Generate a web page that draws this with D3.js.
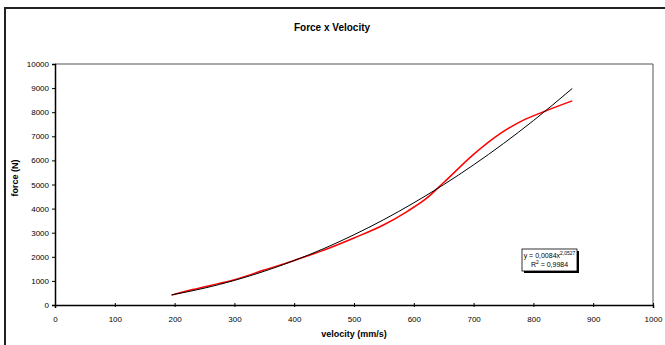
<!DOCTYPE html>
<html>
<head>
<meta charset="utf-8">
<script src="https://cdn.jsdelivr.net/npm/d3@7"></script>
<style>
  body { margin: 0; background: #fff; }
  svg { display: block; font-family: "Liberation Sans", Arial, sans-serif; }
</style>
</head>
<body>
<script>
// measured velocity (mm/s) and force (N)
let velocity = [195, 230, 260, 300, 350, 400, 450, 500, 550, 590, 620, 650, 700, 745, 780, 820, 865];
let force = [410, 640, 810, 1050, 1450, 1850, 2280, 2780, 3330, 3900, 4400, 5080, 6250, 7120, 7630, 8050, 8470];

// power trendline
let trendV = [195, 250, 300, 350, 400, 450, 500, 550, 600, 650, 700, 750, 800, 865];
let trendF = [420, 700, 1020, 1400, 1845, 2345, 2915, 3545, 4240, 4995, 5815, 6700, 7650, 8985];

let xTicks = [0, 100, 200, 300, 400, 500, 600, 700, 800, 900, 1000];
let yTicks = [0, 1000, 2000, 3000, 4000, 5000, 6000, 7000, 8000, 9000, 10000];

let margin = { top: 64, right: 12, bottom: 40, left: 55 };
let W = 665, H = 345;
let width = W - margin.left - margin.right;
let height = H - margin.top - margin.bottom;

let svg = d3.select('body').append('svg')
    .attr('width', W)
    .attr('height', H);

// chart area border (runs off the picture on the right and bottom)
svg.append('rect')
    .attr('x', 5).attr('y', 8)
    .attr('width', 700).attr('height', 400)
    .attr('fill', '#fff')
    .attr('stroke', '#222')
    .attr('stroke-width', 2);

svg.append('text')
    .attr('x', 332).attr('y', 31)
    .attr('text-anchor', 'middle')
    .style('font-size', '10px')
    .style('font-weight', 'bold')
    .text('Force x Velocity');

let g = svg.append('g')
    .attr('transform', 'translate(' + margin.left + ',' + margin.top + ')');

let x = d3.scaleLinear().domain([0, 1000]).range([0, width]);
let y = d3.scaleLinear().domain([0, 10000]).range([height, 0]);

// plot frame top/right
g.append('path')
    .attr('d', 'M0,0H' + width + 'V' + height)
    .attr('fill', 'none')
    .attr('stroke', '#555')
    .attr('stroke-width', 1);

let yAxis = g.append('g')
    .call(d3.axisLeft(y).tickValues(yTicks).tickSize(3).tickPadding(3).tickFormat(d3.format('d')));

let xAxis = g.append('g')
    .attr('transform', 'translate(0,' + height + ')')
    .call(d3.axisBottom(x).tickValues(xTicks).tickSize(3).tickPadding(8).tickFormat(d3.format('d')));

// x ticks cross the axis line
xAxis.selectAll('.tick line').attr('y1', -2).attr('y2', 2);

[xAxis, yAxis].forEach(function (a) {
  a.select('.domain').attr('stroke', '#000').attr('stroke-width', 1.5);
  a.selectAll('.tick line').attr('stroke', '#000');
  a.selectAll('.tick text').style('font-size', '8px').attr('fill', '#000');
});

svg.append('text')
    .attr('x', margin.left + width / 2).attr('y', 337)
    .attr('text-anchor', 'middle')
    .style('font-size', '9px')
    .style('font-weight', 'bold')
    .text('velocity (mm/s)');

svg.append('text')
    .attr('transform', 'translate(18,178) rotate(-90)')
    .attr('text-anchor', 'middle')
    .style('font-size', '9px')
    .style('font-weight', 'bold')
    .text('force (N)');

let line = d3.line()
    .x(function (d) { return x(d[0]); })
    .y(function (d) { return y(d[1]); })
    .curve(d3.curveMonotoneX);

g.append('path')
    .datum(d3.zip(velocity, force))
    .attr('fill', 'none')
    .attr('stroke', '#ff0000')
    .attr('stroke-width', 1.5)
    .attr('d', line);

g.append('path')
    .datum(d3.zip(trendV, trendF))
    .attr('fill', 'none')
    .attr('stroke', '#000')
    .attr('stroke-width', 1)
    .attr('d', line);

// trendline label box with shadow
let bx = 522, by = 249, bw = 55, bh = 22;
svg.append('rect')
    .attr('x', bx + 2).attr('y', by + 2)
    .attr('width', bw).attr('height', bh)
    .attr('fill', '#000');
svg.append('rect')
    .attr('x', bx).attr('y', by)
    .attr('width', bw).attr('height', bh)
    .attr('fill', '#fff')
    .attr('stroke', '#000')
    .attr('stroke-width', 0.8);

let t1 = svg.append('text')
    .attr('x', bx + bw / 2).attr('y', by + 9)
    .attr('text-anchor', 'middle')
    .style('font-size', '7px');
t1.append('tspan').text('y = 0,0084x');
t1.append('tspan').attr('dy', -3).style('font-size', '5px').text('2,0527');

let t2 = svg.append('text')
    .attr('x', bx + bw / 2).attr('y', by + 18)
    .attr('text-anchor', 'middle')
    .style('font-size', '7px');
t2.append('tspan').text('R');
t2.append('tspan').attr('dy', -3).style('font-size', '5px').text('2');
t2.append('tspan').attr('dy', 3).text(' = 0,9984');
</script>
</body>
</html>
